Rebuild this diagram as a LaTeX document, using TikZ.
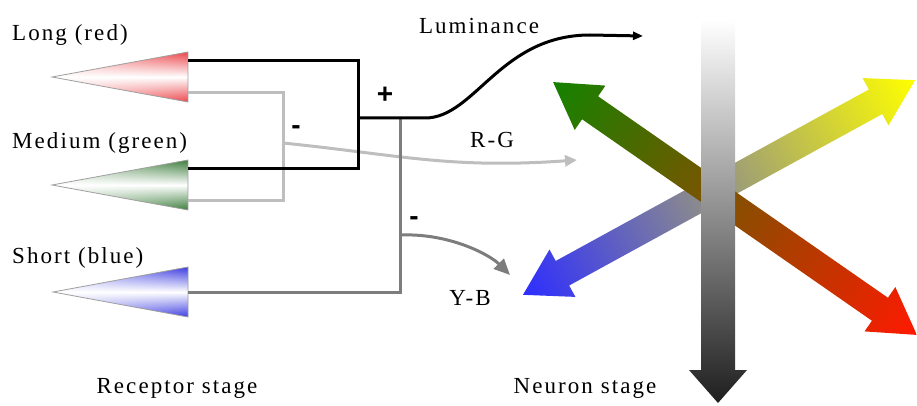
\documentclass[tikz,border=0pt]{standalone}
\usepackage{fontspec}
\setmainfont{Liberation Serif}[LetterSpace=9]
\setsansfont{Liberation Sans}
\usetikzlibrary{arrows.meta,fadings}
\definecolor{conered}{RGB}{235,70,75}
\definecolor{conegreen}{RGB}{60,125,60}
\definecolor{coneblue}{RGB}{60,60,225}
\definecolor{wirelight}{RGB}{190,190,190}
\definecolor{wiredark}{RGB}{125,125,125}
\definecolor{rggreen}{RGB}{20,130,0}
\definecolor{rgbrown}{RGB}{150,100,0}
\definecolor{rgred}{RGB}{255,25,0}
\definecolor{byblue}{RGB}{45,45,255}
\definecolor{bymid}{RGB}{210,210,220}
\definecolor{byyellow}{RGB}{255,255,0}
\definecolor{lummid}{RGB}{180,185,195}
\tikzfading[name=conefade, left color=transparent!65, right color=transparent!0]
\tikzset{
  >={Triangle[length=12pt,width=11pt]},
  label text/.style={font=\fontsize{23}{26}\selectfont, inner sep=0pt},
  sign/.style={font=\sffamily\bfseries\fontsize{28}{30}\selectfont, inner sep=0pt},
  cone/.style={draw=gray!75, line width=0.8pt},
  wire/.style={line width=3pt},
}

\begin{document}
\begin{tikzpicture}[x=1pt,y=1pt]
  \useasboundingbox (0,0) rectangle (917,405);

  % receptor cones
  \shade[top color=conered, bottom color=conered, middle color=white, path fading=conefade]
    (52,328) -- (188,353) -- (188,303) -- cycle;
  \draw[cone] (52,328) -- (188,353) -- (188,303) -- cycle;
  \shade[top color=conegreen, bottom color=conegreen, middle color=white, path fading=conefade]
    (52,220) -- (188,245) -- (188,195) -- cycle;
  \draw[cone] (52,220) -- (188,245) -- (188,195) -- cycle;
  \shade[top color=coneblue, bottom color=coneblue, middle color=white, path fading=conefade]
    (53,113) -- (188,138) -- (188,88) -- cycle;
  \draw[cone] (53,113) -- (188,138) -- (188,88) -- cycle;

  \coordinate (redA)   at (188,344);
  \coordinate (redB)   at (188,312);
  \coordinate (greenA) at (188,237);
  \coordinate (greenB) at (188,205);
  \coordinate (blueA)  at (188,113);
  \coordinate (sumL)   at (358,287);
  \coordinate (sumRG)  at (283,262);
  \coordinate (ybTop)  at (400,287);
  \coordinate (sumYB)  at (400,170);
  \coordinate (lumEnd) at (643,369);
  \coordinate (rgEnd)  at (577,245);
  \coordinate (ybEnd)  at (510,130);

  % opponent wiring
  \draw[wire,wirelight] (redB) -| (sumRG) |- (greenB);
  \draw[wire,wirelight,->] (sumRG) .. controls (400,250) and (450,236) .. (rgEnd);
  \draw[wire,wiredark] (ybTop) |- (blueA);
  \draw[wire,wiredark,-{Triangle[length=16pt,width=14pt]}] (sumYB) .. controls (450,172) and (490,150) .. (ybEnd);
  \draw[wire,black] (redA) -| (sumL) |- (greenA);
  \draw[wire,black,-{Triangle[length=10pt,width=8pt]}] (sumL) -- (425,287)
    .. controls (475,287) and (500,370) .. (590,370) -- (lumEnd);

  % neuron stage
  \shade[transform canvas={shift={(719,217.5)},rotate=28.7},
    left color=byblue, middle color=bymid, right color=byyellow]
    (-223.5,0) -- (-178.5,27) -- (-178.5,14) -- (178.5,14) -- (178.5,27)
    -- (223.5,0) -- (178.5,-27) -- (178.5,-14) -- (-178.5,-14) -- (-178.5,-27) -- cycle;
  \shade[transform canvas={shift={(735,196.5)},rotate=-34.8},
    left color=rggreen, middle color=rgbrown, right color=rgred]
    (-221.5,0) -- (-176.5,27) -- (-176.5,14) -- (176.5,14) -- (176.5,27)
    -- (221.5,0) -- (176.5,-27) -- (176.5,-14) -- (-176.5,-14) -- (-176.5,-27) -- cycle;
  \shade[top color=white, middle color=lummid, bottom color=black!88]
    (701,385) -- (735,385) -- (735,35) -- (747,35) -- (718,2) -- (689,35) -- (701,35) -- cycle;

  % labels
  \node[label text, anchor=west] (long)   at (12,370) {Long (red)};
  \node[label text, anchor=west] (medium) at (12,262) {Medium (green)};
  \node[label text, anchor=west] (short)  at (12,147) {Short (blue)};
  \node[label text] (receptor) at (177,17)  {Receptor stage};
  \node[label text] (lum)      at (479,379) {Luminance};
  \node[label text] (rg)       at (492,265) {R-G};
  \node[label text] (yb)       at (470,107) {Y-B};
  \node[label text] (neuron)   at (585,17)  {Neuron stage};
  \node[sign] (plus)    at (385,310) {+};
  \node[sign] (minusRG) at (296,275) {-};
  \node[sign] (minusYB) at (414,184) {-};
\end{tikzpicture}
\end{document}
